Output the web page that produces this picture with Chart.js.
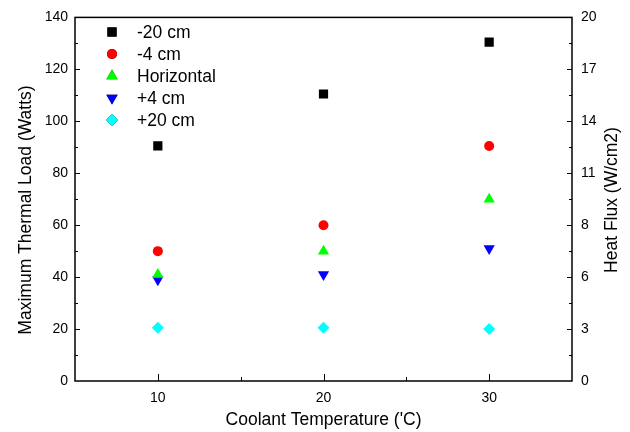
<!DOCTYPE html>
<html>
<head>
<meta charset="utf-8">
<script src="https://cdn.jsdelivr.net/npm/chart.js@4"></script>
<style>
  html, body { margin: 0; padding: 0; background: #fff; }
  #wrap { width: 630px; height: 432px; }
</style>
</head>
<body>
<div id="wrap"><canvas id="loadChart" width="630" height="432"></canvas></div>
<script>
// data
var temps = [10, 20, 30];
var minus20 = [90.5, 110.5, 130.5];
var minus4 = [50, 60, 90.5];
var horizontal = [41, 50, 70];
var plus4 = [39, 41, 51];
var plus20 = [20.5, 20.5, 20];
var fluxLabels = ['0', '3', '6', '8', '11', '14', '17', '20'];

var FONT = '"Liberation Sans", Arial, sans-serif';

function pts(vals) {
    return temps.map(function(t, i) { return { x: t, y: vals[i] }; });
}

// frame with inward ticks + axis titles, like the original plot
var framePlugin = {
    id: 'frame',
    afterDraw: function(chart) {
        var ctx = chart.ctx, a = chart.chartArea;
        var xs = chart.scales.x, ys = chart.scales.y;
        ctx.save();
        ctx.strokeStyle = '#000';
        ctx.lineWidth = 1.5;
        ctx.strokeRect(a.left, a.top, a.right - a.left, a.bottom - a.top);
        ctx.lineWidth = 1;
        ctx.beginPath();
        for (var v = 10; v < 140; v += 10) {
            var py = Math.round(ys.getPixelForValue(v)) + 0.5;
            var len = (v % 20 === 0) ? 5 : 3;
            ctx.moveTo(a.left, py); ctx.lineTo(a.left + len, py);
            ctx.moveTo(a.right, py); ctx.lineTo(a.right - len, py);
        }
        for (var t = 10; t <= 30; t += 5) {
            var px = Math.round(xs.getPixelForValue(t)) + 0.5;
            var l = (t % 10 === 0) ? 7 : 4;
            ctx.moveTo(px, a.bottom); ctx.lineTo(px, a.bottom - l);
        }
        ctx.stroke();

        // axis titles (both vertical ones read bottom to top)
        ctx.fillStyle = '#000';
        ctx.font = '17.5px ' + FONT;
        ctx.textAlign = 'center';
        ctx.textBaseline = 'middle';
        ctx.fillText("Coolant Temperature ('C)", (a.left + a.right) / 2, 420);
        ctx.save();
        ctx.translate(26, 210);
        ctx.rotate(-Math.PI / 2);
        ctx.fillText('Maximum Thermal Load (Watts)', 0, 0);
        ctx.restore();
        ctx.save();
        ctx.translate(612, 200);
        ctx.rotate(-Math.PI / 2);
        ctx.fillText('Heat Flux (W/cm2)', 0, 0);
        ctx.restore();
        ctx.restore();
    }
};

// legend inside the plot, top left
var legendPlugin = {
    id: 'insideLegend',
    afterDraw: function(chart) {
        var ctx = chart.ctx;
        ctx.save();
        ctx.font = '17.5px ' + FONT;
        ctx.textBaseline = 'middle';
        ctx.textAlign = 'left';
        chart.data.datasets.forEach(function(ds, i) {
            var y = 32 + i * 22;
            Chart.helpers.drawPoint(ctx, {
                pointStyle: ds.pointStyle,
                radius: ds.pointRadius,
                rotation: ds.rotation || 0,
                borderWidth: 0
            }, 112, y);
            ctx.fillStyle = ds.backgroundColor;
            ctx.fill();
            ctx.fillStyle = '#000';
            ctx.fillText(ds.label, 137, y + 1);
        });
        ctx.restore();
    }
};

function series(label, vals, color, style, radius, rot) {
    return {
        label: label,
        data: pts(vals),
        backgroundColor: color,
        borderColor: color,
        borderWidth: 0,
        pointStyle: style,
        pointRadius: radius,
        pointHoverRadius: radius,
        rotation: rot || 0
    };
}

var ctx = document.getElementById('loadChart').getContext('2d');
var loadChart = new Chart(ctx, {
    type: 'scatter',
    data: {
        datasets: [
            series('-20 cm', minus20, '#000000', 'rect', 6.5),
            series('-4 cm', minus4, '#ff0000', 'circle', 5),
            series('Horizontal', horizontal, '#00ff00', 'triangle', 6.5),
            series('+4 cm', plus4, '#0000ff', 'triangle', 6.5, 180),
            series('+20 cm', plus20, '#00ffff', 'rectRot', 6)
        ]
    },
    options: {
        responsive: false,
        animation: false,
        layout: { padding: { top: 12, right: 0, left: 0, bottom: 0 } },
        scales: {
            x: {
                type: 'linear',
                min: 5,
                max: 35,
                afterFit: function(s) { s.height = 51; },
                afterBuildTicks: function(s) {
                    s.ticks = [10, 20, 30].map(function(v) { return { value: v }; });
                },
                grid: { display: false, drawTicks: false },
                border: { display: false },
                ticks: { color: '#000', font: { family: FONT, size: 14 }, padding: 9 }
            },
            y: {
                position: 'left',
                min: 0,
                max: 140,
                afterFit: function(s) { s.width = 75; },
                grid: { display: false, drawTicks: false },
                border: { display: false },
                ticks: { stepSize: 20, color: '#000', font: { family: FONT, size: 14 }, padding: 7 }
            },
            y2: {
                position: 'right',
                min: 0,
                max: 140,
                afterFit: function(s) { s.width = 58; },
                grid: { display: false, drawTicks: false },
                border: { display: false },
                ticks: {
                    stepSize: 20,
                    color: '#000',
                    font: { family: FONT, size: 14 },
                    padding: 9,
                    callback: function(value, index) { return fluxLabels[index]; }
                }
            }
        },
        plugins: {
            legend: { display: false },
            tooltip: { enabled: false }
        }
    },
    plugins: [framePlugin, legendPlugin]
});
</script>
</body>
</html>
